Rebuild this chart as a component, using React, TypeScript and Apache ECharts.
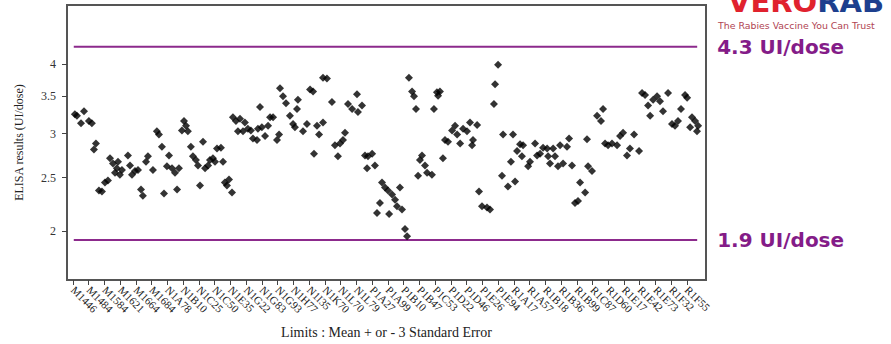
import React, { useEffect, useRef } from 'react';
import * as echarts from 'echarts';

const lotLabels = [
  'M1446', 'M1484', 'M1584', 'M1621', 'M1664', 'M1684', 'N1A78', 'N1B10', 'N1C25', 'N1C50',
  'N1E35', 'N1G22', 'N1G83', 'N1G93', 'N1H77', 'N1I35', 'N1K70', 'N1L70', 'N1L79', 'P1A27',
  'P1A99', 'P1B10', 'P1B47', 'P1C53', 'P1D22', 'P1D46', 'P1E26', 'P1E94', 'R1A17', 'R1A57',
  'R1B18', 'R1B36', 'R1B99', 'R1C87', 'R1D60', 'R1E17', 'R1E42', 'R1E73', 'R1F32', 'R1F55',
];

const yTickValues = [2, 2.5, 3, 3.5, 4];
const upperLimit = 4.3;
const lowerLimit = 1.93;
const upperLimitText = '4.3 UI/dose';
const lowerLimitText = '1.9 UI/dose';
const limitSpan = [1.05, 40.65];

// [lot position, ELISA result (UI/dose)]
const elisaPoints = [
  [1.12, 3.25], [1.25, 3.23], [1.70, 3.29], [1.51, 3.13], [2.01, 3.16], [2.20, 3.13], [2.46, 2.88], [2.33, 2.81],
  [2.65, 2.37], [2.84, 2.36], [3.03, 2.45], [3.22, 2.47], [3.35, 2.71], [3.54, 2.65], [3.86, 2.67], [3.79, 2.60],
  [3.67, 2.55], [3.98, 2.53], [4.11, 2.58], [4.49, 2.74], [4.62, 2.63], [4.75, 2.53], [4.94, 2.57], [5.13, 2.58],
  [5.32, 2.38], [5.44, 2.32], [5.64, 2.67], [5.76, 2.73], [6.08, 2.58], [6.33, 3.03], [6.46, 2.99], [6.65, 2.84],
  [6.78, 2.34], [6.97, 2.62], [7.10, 2.74], [7.29, 2.60], [7.48, 2.55], [7.61, 2.38], [7.73, 2.60], [7.92, 3.04],
  [8.05, 3.16], [8.18, 3.10], [8.30, 3.03], [8.49, 2.84], [8.62, 2.73], [8.81, 2.69], [8.94, 2.63], [9.07, 2.42],
  [9.26, 2.90], [9.39, 2.60], [9.58, 2.63], [9.70, 2.69], [9.89, 2.71], [10.02, 2.67], [10.15, 2.82], [10.40, 2.83],
  [10.53, 2.67], [10.65, 2.45], [10.78, 2.42], [10.91, 2.48], [11.10, 2.35], [11.16, 3.21], [11.35, 3.16], [11.61, 3.19],
  [11.48, 3.03], [11.80, 3.03], [11.92, 3.14], [12.11, 3.06], [12.30, 3.04], [12.43, 2.94], [12.69, 2.92], [12.88, 3.35],
  [12.75, 3.06], [13.00, 3.08], [13.20, 2.97], [13.39, 3.10], [13.52, 3.21], [13.71, 3.21], [13.96, 2.92], [14.09, 2.99],
  [14.15, 3.62], [14.34, 3.50], [14.53, 3.40], [14.78, 3.23], [14.98, 3.12], [15.23, 3.32], [15.29, 3.45],
  [16.88, 3.78], [17.13, 3.77], [16.06, 3.60], [16.25, 3.57], [15.10, 3.08], [15.61, 3.03], [15.86, 3.12], [16.50, 3.10],
  [16.88, 3.14], [16.63, 2.99], [16.31, 2.76], [17.45, 3.42], [17.64, 2.86], [17.83, 2.73], [17.96, 2.88], [18.15, 2.92],
  [18.28, 3.01], [18.47, 3.39], [18.73, 3.32], [19.04, 3.53], [19.10, 3.28], [19.36, 3.37], [19.55, 2.74], [19.74, 2.73],
  [20.00, 2.76], [19.68, 2.60], [20.18, 2.63], [20.63, 2.45], [20.82, 2.40], [21.01, 2.37], [21.27, 2.33], [21.46, 2.28],
  [21.77, 2.40], [20.50, 2.25], [20.31, 2.16], [21.08, 2.15], [21.58, 2.22], [21.90, 2.19], [22.09, 2.02], [22.22, 1.96],
  [22.34, 3.78], [22.54, 3.57], [22.66, 3.50], [22.79, 3.32], [23.17, 2.74], [23.04, 2.69], [23.36, 2.63], [23.49, 2.55],
  [23.80, 2.53], [22.92, 2.52], [24.12, 3.56], [24.31, 3.57], [24.19, 3.51], [23.93, 3.32], [24.50, 2.71], [24.63, 2.92],
  [24.82, 2.90], [25.08, 3.04], [25.27, 3.10], [25.40, 2.99], [25.59, 2.88], [25.78, 3.06], [26.03, 3.03], [26.22, 3.14],
  [26.41, 2.92], [26.35, 2.86], [26.67, 3.11], [26.79, 2.36], [26.98, 2.22], [27.30, 2.21], [27.49, 2.19], [27.74, 3.39],
  [27.81, 3.68], [28.00, 3.99],
  [28.32, 2.99], [28.95, 2.99], [28.25, 2.52], [28.63, 2.41], [29.08, 2.46], [28.82, 2.67], [29.21, 2.79], [29.40, 2.87],
  [29.59, 2.86], [29.52, 2.73], [30.03, 2.67], [29.91, 2.62], [30.35, 2.88], [30.48, 2.74], [30.67, 2.76], [30.86, 2.83],
  [31.12, 2.82], [31.18, 2.73], [31.30, 2.65], [31.50, 2.82], [31.62, 2.73], [31.94, 2.86], [31.81, 2.62], [32.13, 2.65],
  [32.38, 2.84], [32.51, 2.94], [32.70, 2.63], [32.89, 2.25], [33.08, 2.27], [33.21, 2.45], [33.53, 2.35], [33.65, 2.93],
  [33.72, 2.62], [33.97, 2.57], [34.29, 3.23], [34.54, 3.16], [34.67, 3.32], [34.80, 2.88], [34.99, 2.86], [35.24, 2.88],
  [35.56, 2.86], [35.75, 2.97], [35.94, 3.01], [36.19, 2.74], [36.38, 2.82], [36.64, 2.99], [36.96, 2.79], [37.15, 3.55],
  [37.34, 3.52], [37.53, 3.37], [37.66, 3.23], [37.85, 3.45], [38.10, 3.50], [38.29, 3.43], [38.48, 3.29], [38.80, 3.55],
  [39.05, 3.12], [39.24, 3.10], [39.43, 3.16], [39.62, 3.32], [39.88, 3.52], [40.01, 3.48], [40.20, 3.08], [40.32, 3.21],
  [40.52, 3.16], [40.64, 3.03], [40.71, 3.10],
];

export default function App() {
  const ref = useRef<HTMLDivElement>(null);

  useEffect(() => {
    const chart = echarts.init(ref.current as HTMLDivElement, null, { renderer: 'svg' });
    const tickPositions = lotLabels.map((_, i) => i + 1);
    const serif = 'Liberation Serif';
    const limitColor = '#8c2a8c';
    const limitLine = (value: number, text: string) => ({
      type: 'line',
      data: limitSpan.map((x) => [x, value]),
      symbol: 'none',
      silent: true,
      z: 1,
      lineStyle: { color: limitColor, width: 2 },
      endLabel: {
        show: true,
        formatter: text,
        distance: 20,
        color: '#841c88',
        fontSize: 20,
        fontWeight: 'bold',
        fontFamily: 'DejaVu Sans',
      },
    });

    chart.setOption({
      animation: false,
      backgroundColor: '#ffffff',
      grid: {
        left: 67,
        right: 185,
        top: 5,
        bottom: 59,
        show: true,
        borderColor: '#555555',
        borderWidth: 2,
      },
      xAxis: {
        type: 'value',
        min: 0.62,
        max: 41.21,
        name: 'Limits : Mean + or - 3 Standard Error',
        nameLocation: 'middle',
        nameGap: 45,
        nameTextStyle: { fontFamily: serif, fontSize: 14, color: '#222' },
        axisLine: { show: false },
        splitLine: { show: false },
        axisTick: {
          show: true,
          customValues: tickPositions,
          length: 5,
          lineStyle: { color: '#444', width: 1 },
        },
        axisLabel: {
          customValues: tickPositions,
          formatter: (v: number) => lotLabels[Math.round(v) - 1] ?? '',
          rotate: -45,
          margin: 8,
          fontFamily: serif,
          fontSize: 11,
          color: '#222',
        },
      },
      yAxis: {
        type: 'log',
        logBase: 10,
        min: 1.636,
        max: 5.11,
        name: 'ELISA results (UI/dose)',
        nameLocation: 'middle',
        nameGap: 42,
        nameTextStyle: { fontFamily: serif, fontSize: 12, color: '#222' },
        axisLine: { show: false },
        splitLine: { show: false },
        minorTick: { show: false },
        axisTick: {
          show: true,
          customValues: yTickValues,
          length: 5,
          lineStyle: { color: '#444', width: 1 },
        },
        axisLabel: {
          customValues: yTickValues,
          margin: 11,
          fontFamily: serif,
          fontSize: 12,
          color: '#333',
        },
      },
      series: [
        limitLine(upperLimit, upperLimitText),
        limitLine(lowerLimit, lowerLimitText),
        {
          type: 'scatter',
          data: elisaPoints,
          symbol: 'diamond',
          symbolSize: 8,
          itemStyle: { color: '#000000' },
          z: 3,
        },
      ],
      graphic: [
        {
          type: 'text',
          x: 728,
          y: 16,
          style: {
            text: '{r|VERO}{b|RAB}',
            verticalAlign: 'bottom',
            rich: {
              r: { fill: '#e0222e', fontSize: 29, fontWeight: 900, fontFamily: 'DejaVu Sans' },
              b: { fill: '#1d3f8e', fontSize: 29, fontWeight: 900, fontFamily: 'DejaVu Sans' },
            },
          },
        },
        {
          type: 'text',
          x: 718,
          y: 25,
          style: {
            text: 'The Rabies Vaccine You Can Trust',
            fill: '#b04452',
            fontSize: 9.4,
            fontFamily: 'DejaVu Sans',
            verticalAlign: 'middle',
          },
        },
      ],
    });

    return () => chart.dispose();
  }, []);

  return (
    <div
      ref={ref}
      style={{ position: 'fixed', left: 0, top: 0, width: 891, height: 344 }}
    />
  );
}
